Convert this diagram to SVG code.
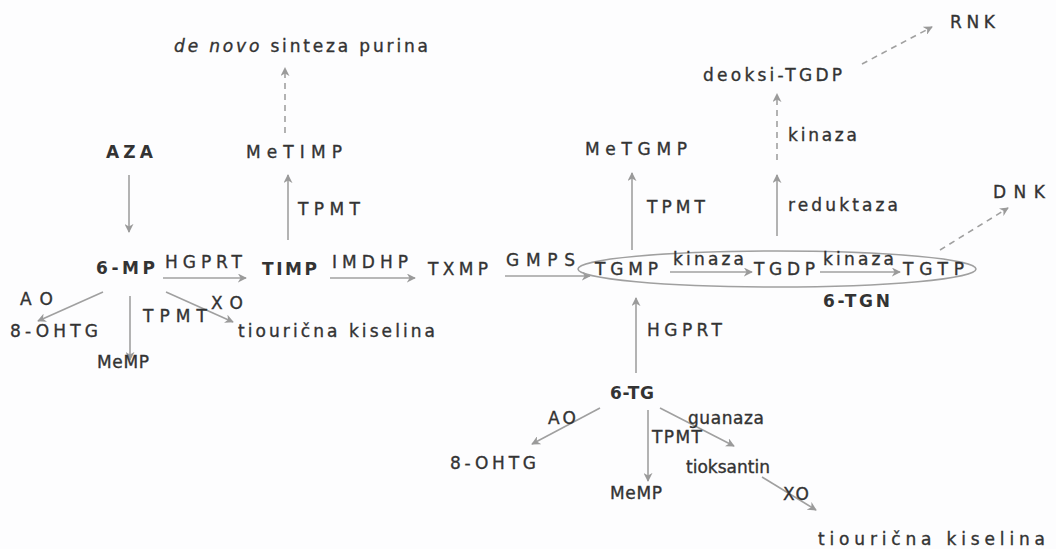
<svg xmlns="http://www.w3.org/2000/svg" width="1056" height="549" viewBox="0 0 1056 549">
<defs>
<marker id="ah" viewBox="0 0 10 10" refX="9" refY="5" markerWidth="9" markerHeight="9" orient="auto" markerUnits="userSpaceOnUse">
<path d="M0,0 L10,5 L0,10 L3,5 Z" fill="#9a9a9a"/>
</marker>
<style>
text{font-family:"DejaVu Sans","Liberation Sans",sans-serif;font-size:17px;fill:#333;stroke:#333;stroke-width:0.35}
.b{font-weight:bold;stroke-width:0}
.c{stroke:#a0a0a0;stroke-width:1.6;fill:none;marker-end:url(#ah)}
.d{stroke:#a0a0a0;stroke-width:1.6;fill:none;stroke-dasharray:6 5;marker-end:url(#ah)}
</style>
</defs>
<rect width="1056" height="549" fill="#fdfdfe"/>
<g id="connectors">
<line class="d" x1="285" y1="133" x2="285" y2="68"/>
<line class="c" x1="129" y1="175" x2="129" y2="232"/>
<line class="c" x1="288" y1="240" x2="288" y2="175"/>
<line class="c" x1="163" y1="278" x2="246" y2="278"/>
<line class="c" x1="330" y1="278" x2="415" y2="278"/>
<line class="c" x1="505" y1="276" x2="590" y2="276"/>
<line class="c" x1="670" y1="272" x2="752" y2="272"/>
<line class="c" x1="820" y1="272" x2="900" y2="272"/>
<line class="c" x1="632" y1="250" x2="632" y2="173"/>
<line class="c" x1="777" y1="236" x2="777" y2="175"/>
<line class="d" x1="777" y1="160" x2="777" y2="94"/>
<line class="d" x1="862" y1="64" x2="932" y2="27"/>
<line class="d" x1="940" y1="250" x2="1008" y2="208"/>
<line class="c" x1="103" y1="292" x2="38" y2="321"/>
<line class="c" x1="130" y1="296" x2="130" y2="360"/>
<line class="c" x1="166" y1="292" x2="233" y2="322"/>
<line class="c" x1="636" y1="373" x2="636" y2="298"/>
<line class="c" x1="600" y1="408" x2="532" y2="444"/>
<line class="c" x1="648" y1="410" x2="648" y2="481"/>
<line class="c" x1="660" y1="408" x2="734" y2="446"/>
<line class="c" x1="762" y1="477" x2="816" y2="510"/>
<ellipse cx="777" cy="269" rx="199" ry="18" fill="none" stroke="#a0a0a0" stroke-width="1.6"/>
</g>
<g id="n-denovo"><text x="174" y="52" textLength="254"><tspan font-style="italic">de novo</tspan> sinteza purina</text></g>
<g id="n-aza"><text class="b" x="106" y="158" textLength="47">AZA</text></g>
<g id="n-metimp"><text x="246" y="158" textLength="96">MeTIMP</text></g>
<g id="l-tpmt1"><text x="298" y="215" textLength="62">TPMT</text></g>
<g id="n-6mp"><text class="b" x="96" y="274" textLength="59">6-MP</text></g>
<g id="l-hgprt1"><text x="165" y="268" textLength="77">HGPRT</text></g>
<g id="n-timp"><text class="b" x="262" y="275" textLength="55">TIMP</text></g>
<g id="l-imdhp"><text x="332" y="268" textLength="76">IMDHP</text></g>
<g id="n-txmp"><text x="428" y="275" textLength="60">TXMP</text></g>
<g id="l-gmps"><text x="506" y="266" textLength="69">GMPS</text></g>
<g id="n-tgmp"><text x="595" y="275" textLength="63">TGMP</text></g>
<g id="l-kin1"><text x="673" y="265" textLength="71">kinaza</text></g>
<g id="n-tgdp"><text x="754" y="275" textLength="61">TGDP</text></g>
<g id="l-kin2"><text x="823" y="265" textLength="71">kinaza</text></g>
<g id="n-tgtp"><text x="903" y="275" textLength="61">TGTP</text></g>
<g id="l-6tgn"><text class="b" x="823" y="307" textLength="67">6-TGN</text></g>
<g id="n-metgmp"><text x="585" y="155" textLength="102">MeTGMP</text></g>
<g id="l-tpmt2"><text x="647" y="213" textLength="58">TPMT</text></g>
<g id="l-red"><text x="788" y="211" textLength="110">reduktaza</text></g>
<g id="l-kin3"><text x="788" y="141" textLength="69">kinaza</text></g>
<g id="n-deoksi"><text x="703" y="81" textLength="139">deoksi-TGDP</text></g>
<g id="n-rnk"><text x="950" y="28" textLength="45">RNK</text></g>
<g id="n-dnk"><text x="993" y="198" textLength="52">DNK</text></g>
<g id="l-ao1"><text x="20" y="305" textLength="33">AO</text></g>
<g id="n-8ohtg1"><text x="10" y="337" textLength="88">8-OHTG</text></g>
<g id="l-tpmt3"><text x="143" y="322" textLength="64">TPMT</text></g>
<g id="n-memp1"><text x="97" y="368" textLength="52">MeMP</text></g>
<g id="l-xo1"><text x="211" y="309" textLength="32">XO</text></g>
<g id="n-tk1"><text x="238" y="337" textLength="197">tiourična kiselina</text></g>
<g id="l-hgprt2"><text x="647" y="336" textLength="75">HGPRT</text></g>
<g id="n-6tg"><text class="b" x="610" y="399" textLength="44">6-TG</text></g>
<g id="l-ao2"><text x="548" y="424" textLength="28">AO</text></g>
<g id="n-8ohtg2"><text x="450" y="469" textLength="86">8-OHTG</text></g>
<g id="l-tpmt4"><text x="652" y="443" textLength="50">TPMT</text></g>
<g id="n-memp2"><text x="610" y="499" textLength="52">MeMP</text></g>
<g id="l-guan"><text x="688" y="424" textLength="76">guanaza</text></g>
<g id="n-tiok"><text x="686" y="473" textLength="84">tioksantin</text></g>
<g id="l-xo2"><text x="783" y="500" textLength="26">XO</text></g>
<g id="n-tk2"><text x="818" y="545" textLength="227">tiourična kiselina</text></g>
</svg>
